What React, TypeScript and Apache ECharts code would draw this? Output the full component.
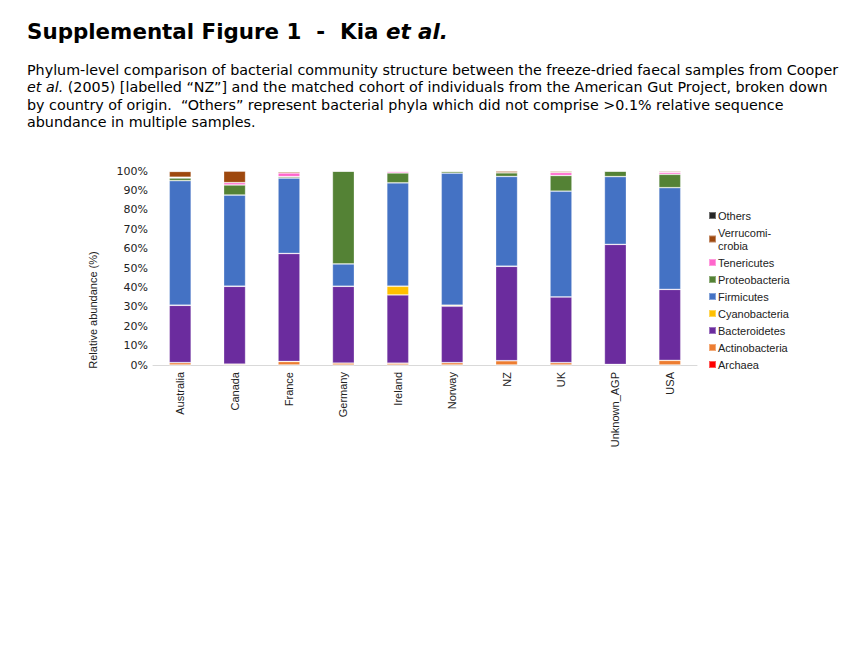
import React, { useEffect, useRef } from "react";
import * as echarts from "echarts";

const categories = ["Australia", "Canada", "France", "Germany", "Ireland", "Norway", "NZ", "UK", "Unknown_AGP", "USA"];
const yTicks = ["0%", "10%", "20%", "30%", "40%", "50%", "60%", "70%", "80%", "90%", "100%"];

const archaea = [0, 0, 0, 0, 0, 0, 0, 0, 0, 0];
const actinobacteria = [1.2, 0.5, 1.8, 1.0, 0.9, 1.2, 2.2, 1.2, 0.3, 2.4];
const bacteroidetes = [29.6, 40.1, 55.7, 39.6, 35.2, 29.1, 48.7, 33.9, 61.9, 36.6];
const cyanobacteria = [0, 0, 0, 0, 4.5, 0.5, 0, 0, 0, 0];
const firmicutes = [64.2, 47.0, 38.9, 11.5, 53.3, 68.1, 46.3, 54.5, 34.9, 52.4];
const proteobacteria = [1.4, 5.2, 0.7, 47.9, 5.1, 1.0, 1.9, 8.1, 2.9, 6.9];
const tenericutes = [0.4, 1.2, 1.9, 0, 0.8, 0, 0, 1.5, 0, 1.0];
const verrucomicrobia = [3.0, 6.0, 0.7, 0, 0.1, 0, 0.9, 0.7, 0, 0.6];
const others = [0.2, 0, 0.3, 0, 0.1, 0.1, 0, 0.1, 0, 0.1];

const seriesNames = ["Archaea", "Actinobacteria", "Bacteroidetes", "Cyanobacteria", "Firmicutes", "Proteobacteria", "Tenericutes", "Verrucomicrobia", "Others"];
const seriesValues = [archaea, actinobacteria, bacteroidetes, cyanobacteria, firmicutes, proteobacteria, tenericutes, verrucomicrobia, others];
const seriesColors = ["#FF0000", "#ED7D31", "#6B2C9E", "#FFC000", "#4472C4", "#548235", "#FF66CC", "#9E480E", "#262626"];

const titleMain = "Supplemental Figure 1  -  Kia ";
const titleItalic = "et al.";
const captionLines = [
  "Phylum-level comparison of bacterial community structure between the freeze-dried faecal samples from Cooper",
  "(2005) [labelled \u201cNZ\u201d] and the matched cohort of individuals from the American Gut Project, broken down",
  "by country of origin.  \u201cOthers\u201d represent bacterial phyla which did not comprise >0.1% relative sequence",
  "abundance in multiple samples.",
];
const yAxisName = "Relative abundance (%)";

export default function App() {
  const ref = useRef<HTMLDivElement>(null);
  useEffect(() => {
    document.body.style.margin = "0";
    const chart = echarts.init(ref.current!, null, { renderer: "svg" });
    const capFont = "DejaVu Sans";
    chart.setOption({
      animation: false,
      backgroundColor: "#ffffff",
      grid: { left: 153, right: 163, top: 171, bottom: 280, containLabel: false },
      xAxis: {
        type: "category",
        data: categories,
        axisTick: { show: false },
        axisLine: { lineStyle: { color: "#d9d9d9", width: 1 } },
        axisLabel: {
          rotate: 90,
          margin: 7,
          color: "#222",
          fontSize: 11,
          fontFamily: "Liberation Sans",
          interval: 0,
        },
      },
      yAxis: {
        type: "value",
        min: 0,
        max: 100,
        interval: 10,
        splitLine: { show: false },
        axisLine: { show: false },
        axisTick: { show: false },
        axisLabel: {
          margin: 5,
          color: "#222",
          fontSize: 11,
          fontFamily: "DejaVu Sans",
          formatter: (v: number) => yTicks[Math.round(v / 10)],
        },
      },
      legend: {
        orient: "vertical",
        left: 708,
        top: 209,
        padding: 0,
        itemWidth: 7,
        itemHeight: 7,
        itemGap: 4,
        icon: "rect",
        data: seriesNames.slice().reverse(),
        formatter: (name: string) => (name === "Verrucomicrobia" ? "Verrucomi-\ncrobia" : name),
        textStyle: { fontSize: 11, fontFamily: "Liberation Sans", color: "#222", lineHeight: 13, padding: [0, 0, 0, -3] },
      },
      series: seriesNames.map((name, i) => ({
        name,
        type: "bar",
        stack: "total",
        barWidth: 22,
        data: seriesValues[i],
        itemStyle: { color: seriesColors[i], borderColor: "rgba(255,255,255,0.35)", borderWidth: 0.8 },
      })),
      graphic: [
        {
          type: "text",
          left: 27,
          top: 21,
          style: {
            text: "{b|" + titleMain + "}{bi|" + titleItalic + "}",
            rich: {
              b: { fontFamily: capFont, fontWeight: "bold", fontSize: 21.4, fill: "#000" },
              bi: { fontFamily: capFont, fontWeight: "bold", fontStyle: "italic", fontSize: 21.4, fill: "#000" },
            },
          },
        },
        {
          type: "text",
          left: 27,
          top: 63,
          style: {
            text:
              "{n|" + captionLines[0] + "}\n{i|et al.}{n| " + captionLines[1] + "}\n{n|" + captionLines[2] + "}\n{n|" + captionLines[3] + "}",
            rich: {
              n: { fontFamily: capFont, fontSize: 14.3, fill: "#000", lineHeight: 17.3 },
              i: { fontFamily: capFont, fontSize: 14.3, fontStyle: "italic", fill: "#000", lineHeight: 17.3 },
            },
          },
        },
        {
          type: "text",
          x: 93,
          y: 310,
          rotation: Math.PI / 2,
          style: {
            text: yAxisName,
            fontFamily: "Liberation Sans",
            fontSize: 11,
            fill: "#222",
            align: "center",
            verticalAlign: "middle",
          },
        },
      ],
    });
    return () => chart.dispose();
  }, []);
  return <div ref={ref} style={{ width: 860, height: 645 }} />;
}
